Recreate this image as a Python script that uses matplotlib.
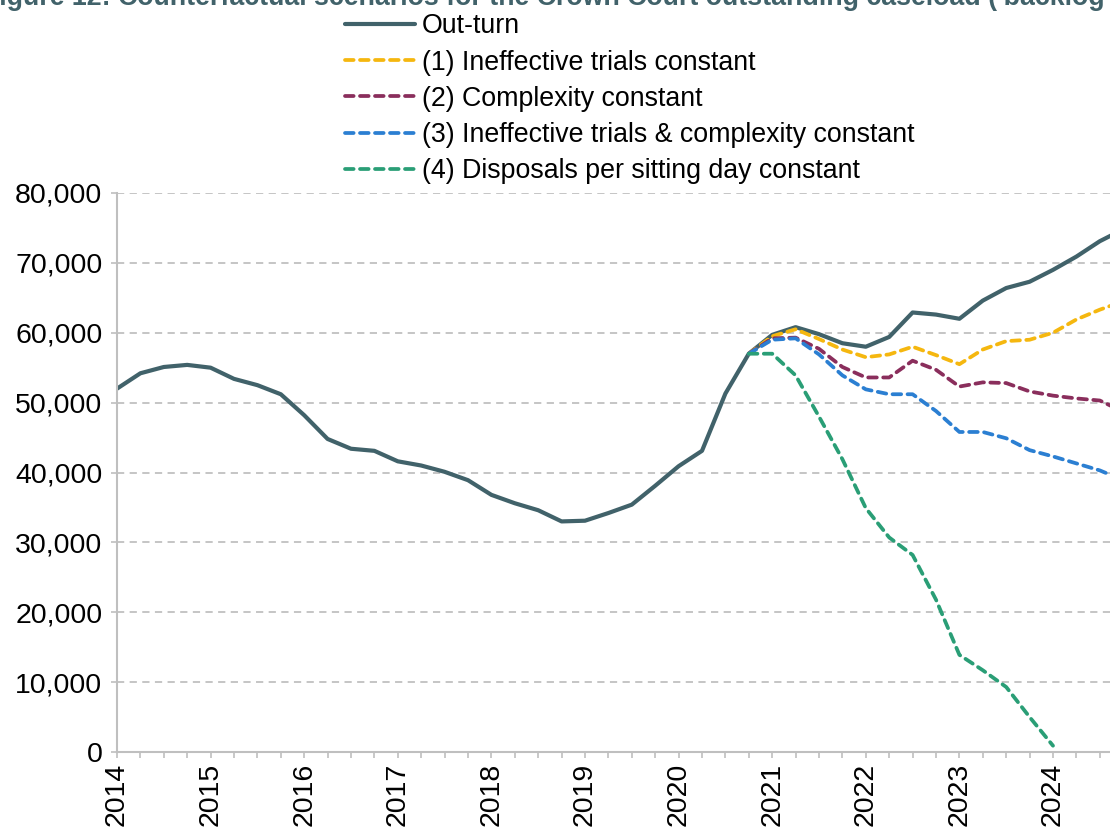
import numpy as np
import matplotlib.pyplot as plt
from matplotlib.ticker import FuncFormatter, MultipleLocator

plt.rcParams['font.family'] = ['Liberation Sans', 'DejaVu Sans']

# quarterly values, first point 2014 Q1
start_year = 2014
outturn = [52000, 54200, 55100, 55400, 55000, 53400, 52500, 51200, 48200, 44800,
           43400, 43100, 41600, 41000, 40100, 38900, 36800, 35600, 34600, 33000,
           33100, 34200, 35400, 38100, 40900, 43100, 51300, 57000, 59700, 60800,
           59800, 58500, 58000, 59400, 62900, 62600, 62000, 64600, 66400, 67300,
           69000, 70900, 73100, 74800]
# scenarios start from the same quarter (2020 Q4)
scen_start = 27
ineffective = [57000, 59500, 60500, 59100, 57600, 56500, 56900, 58000, 56800, 55500,
               57600, 58800, 59000, 60000, 61900, 63300, 64500]
complexity = [57000, 59200, 59300, 57700, 55100, 53600, 53600, 56000, 54700, 52300,
              52900, 52800, 51600, 51000, 50600, 50300, 48700]
both = [57000, 59000, 59200, 56900, 53900, 51900, 51200, 51200, 48800, 45800,
        45800, 44900, 43200, 42300, 41300, 40300, 38900]
disposals = [57000, 57000, 53900, 48000, 41900, 34900, 30700, 28200, 21800, 13900,
             11700, 9300, 5000, 900]

labels = ['Out-turn', '(1) Ineffective trials constant', '(2) Complexity constant',
          '(3) Ineffective trials & complexity constant',
          '(4) Disposals per sitting day constant']
colors = ['#41626a', '#f5b70f', '#8a2e5c', '#2b7fd2', '#2a9e76']

fig = plt.figure(figsize=(11.1, 8.27), dpi=100)
ax = fig.add_axes([117 / 1110, 1 - 752 / 827, 1 - 117 / 1110, (752 - 193) / 827])

x_out = start_year + np.arange(len(outturn)) / 4
ax.plot(x_out, outturn, color=colors[0], lw=3.0, label=labels[0], solid_capstyle='round')
for vals, lab, col in zip([ineffective, complexity, both, disposals], labels[1:], colors[1:]):
    xs = start_year + (scen_start + np.arange(len(vals))) / 4
    ax.plot(xs, vals, color=col, lw=2.7, ls=(0, (2.3, 1.7)), label=lab,
            dash_capstyle='round')

ax.set_xlim(2014, 2014 + (1110 - 117) / 93.6)
ax.set_ylim(0, 80000)
ax.yaxis.set_major_locator(MultipleLocator(10000))
ax.yaxis.set_major_formatter(FuncFormatter(lambda v, p: f'{int(v):,}'))
ax.xaxis.set_major_locator(MultipleLocator(1))
ax.xaxis.set_minor_locator(MultipleLocator(0.25))
ax.xaxis.set_major_formatter(FuncFormatter(lambda v, p: f'{int(round(v))}'))
ax.grid(axis='y', color='#c0c0c0', ls=(0, (4, 3)), lw=1.3)
ax.set_axisbelow(True)
for s in ['top', 'right']:
    ax.spines[s].set_visible(False)
for s in ['left', 'bottom']:
    ax.spines[s].set_color('#bfbfbf')
    ax.spines[s].set_linewidth(1.5)
ax.tick_params(axis='y', length=4.5, width=1.2, color='#bfbfbf', labelsize=20.5, pad=6)
ax.tick_params(axis='x', which='both', length=4.5, width=1.2, color='#bfbfbf',
               labelsize=20.5, labelrotation=90, pad=3)

fig.text(-17 / 1110, 1 - 5 / 827,
         "Figure 12: Counterfactual scenarios for the Crown Court outstanding caseload ('backlog')",
         fontsize=19.3, fontweight='bold', color='#41626a', ha='left', va='baseline')

ax.legend(loc='upper left', bbox_to_anchor=(332 / 1110, 1.0),
          bbox_transform=fig.transFigure, frameon=False, fontsize=19.3,
          handlelength=2.6, handletextpad=0.26, labelspacing=0.38, borderpad=0)

fig.savefig('out.png', dpi=100)
